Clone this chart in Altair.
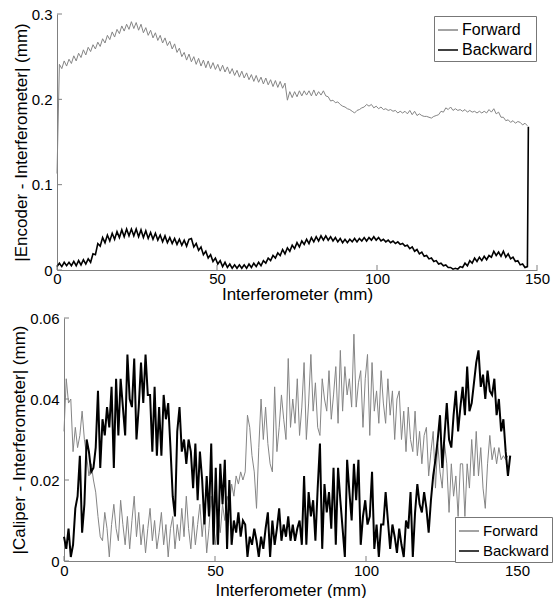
import altair as alt
import pandas as pd

STEP = 0.75

# ---- top panel: |Encoder - Interferometer| (mm) ----
top_forward = [
    0.113, 0.241, 0.236, 0.245, 0.239, 0.247, 0.242, 0.251, 0.245, 0.254,
    0.249, 0.258, 0.252, 0.261, 0.256, 0.264, 0.259, 0.267, 0.262, 0.271,
    0.266, 0.275, 0.270, 0.279, 0.273, 0.282, 0.277, 0.286, 0.280, 0.288,
    0.282, 0.291, 0.283, 0.290, 0.281, 0.288, 0.278, 0.284, 0.275, 0.281,
    0.272, 0.278, 0.269, 0.275, 0.266, 0.272, 0.263, 0.268, 0.259, 0.265,
    0.255, 0.260, 0.250, 0.255, 0.246, 0.253, 0.244, 0.250, 0.241, 0.248,
    0.239, 0.246, 0.237, 0.245, 0.236, 0.243, 0.235, 0.241, 0.233, 0.240,
    0.232, 0.238, 0.230, 0.236, 0.228, 0.234, 0.226, 0.233, 0.225, 0.231,
    0.223, 0.229, 0.221, 0.228, 0.220, 0.226, 0.218, 0.225, 0.217, 0.223,
    0.215, 0.222, 0.214, 0.221, 0.213, 0.219, 0.199, 0.209, 0.202, 0.209,
    0.203, 0.210, 0.204, 0.210, 0.205, 0.210, 0.204, 0.211, 0.204, 0.209,
    0.205, 0.210, 0.204, 0.203, 0.198, 0.199, 0.196, 0.197, 0.194, 0.192,
    0.191, 0.189, 0.188, 0.186, 0.184, 0.187, 0.188, 0.190, 0.191, 0.194,
    0.192, 0.194, 0.190, 0.192, 0.189, 0.191, 0.188, 0.189, 0.187, 0.188,
    0.186, 0.187, 0.184, 0.186, 0.184, 0.186, 0.183, 0.187, 0.182, 0.186,
    0.181, 0.183, 0.181, 0.180, 0.180, 0.179, 0.178, 0.180, 0.181, 0.182,
    0.186, 0.185, 0.190, 0.188, 0.191, 0.187, 0.189, 0.187, 0.188, 0.186,
    0.188, 0.185, 0.187, 0.185, 0.186, 0.184, 0.186, 0.184, 0.186, 0.184,
    0.188, 0.185, 0.189, 0.183, 0.185, 0.179, 0.179, 0.175, 0.176, 0.173,
    0.175, 0.172, 0.174, 0.173, 0.170, 0.172, 0.169,
]
top_backward = [
    0.004, 0.008, 0.004, 0.009, 0.005, 0.009, 0.005, 0.010, 0.005, 0.011,
    0.006, 0.012, 0.007, 0.013, 0.009, 0.019, 0.018, 0.031, 0.028, 0.038,
    0.032, 0.041, 0.034, 0.043, 0.036, 0.045, 0.038, 0.047, 0.039, 0.048,
    0.040, 0.048, 0.040, 0.048, 0.039, 0.047, 0.038, 0.046, 0.037, 0.044,
    0.036, 0.043, 0.035, 0.041, 0.033, 0.040, 0.032, 0.038, 0.031, 0.037,
    0.030, 0.036, 0.029, 0.035, 0.028, 0.036, 0.037, 0.027, 0.031, 0.023,
    0.027, 0.018, 0.022, 0.014, 0.018, 0.010, 0.014, 0.007, 0.011, 0.004,
    0.009, 0.003, 0.007, 0.002, 0.006, 0.002, 0.006, 0.002, 0.006, 0.002,
    0.007, 0.003, 0.008, 0.004, 0.009, 0.005, 0.011, 0.008, 0.014, 0.011,
    0.017, 0.014, 0.020, 0.017, 0.024, 0.019, 0.026, 0.022, 0.029, 0.025,
    0.032, 0.027, 0.034, 0.030, 0.036, 0.031, 0.038, 0.033, 0.039, 0.034,
    0.040, 0.035, 0.040, 0.035, 0.039, 0.034, 0.038, 0.033, 0.037, 0.032,
    0.036, 0.032, 0.036, 0.033, 0.037, 0.033, 0.037, 0.034, 0.038, 0.034,
    0.038, 0.035, 0.039, 0.035, 0.038, 0.034, 0.036, 0.033, 0.035, 0.032,
    0.034, 0.031, 0.033, 0.030, 0.031, 0.028, 0.029, 0.025, 0.027, 0.022,
    0.024, 0.019, 0.021, 0.016, 0.017, 0.013, 0.014, 0.010, 0.011, 0.007,
    0.008, 0.005, 0.006, 0.003, 0.003, 0.001, 0.002, 0.001, 0.004, 0.003,
    0.008, 0.005, 0.011, 0.008, 0.014, 0.010, 0.015, 0.011, 0.016, 0.012,
    0.017, 0.015, 0.022, 0.017, 0.021, 0.016, 0.022, 0.015, 0.019, 0.013,
    0.015, 0.010, 0.011, 0.006, 0.007, 0.003, 0.004,
]
top_backward_end = (147.3, 0.168)

# ---- bottom panel: |Caliper - Interferometer| (mm) ----
bottom_forward = [
    0.032, 0.045, 0.039, 0.040, 0.027, 0.033, 0.028, 0.031, 0.037, 0.030,
    0.026, 0.021, 0.024, 0.020, 0.017, 0.011, 0.006, 0.005, 0.012, 0.008,
    0.001, 0.009, 0.014, 0.008, 0.005, 0.015, 0.009, 0.004, 0.011, 0.003,
    0.010, 0.016, 0.006, 0.012, 0.004, 0.009, 0.002, 0.008, 0.013, 0.005,
    0.010, 0.003, 0.007, 0.012, 0.004, 0.009, 0.001, 0.008, 0.011, 0.003,
    0.009, 0.005, 0.013, 0.006, 0.016, 0.008, 0.003, 0.011, 0.004, 0.009,
    0.014, 0.006, 0.012, 0.002, 0.008, 0.016, 0.009, 0.004, 0.012, 0.007,
    0.014, 0.010, 0.016, 0.014, 0.019, 0.016, 0.021, 0.019, 0.022, 0.020,
    0.022, 0.036, 0.033, 0.026, 0.022, 0.013, 0.028, 0.040, 0.030, 0.038,
    0.029, 0.024, 0.022, 0.043, 0.027, 0.033, 0.041, 0.035, 0.030, 0.050,
    0.033, 0.040, 0.034, 0.045, 0.031, 0.038, 0.049, 0.030, 0.039, 0.051,
    0.037, 0.044, 0.033, 0.031, 0.045, 0.040, 0.037, 0.047, 0.035, 0.041,
    0.048, 0.034, 0.052, 0.037, 0.048, 0.041, 0.045, 0.038, 0.056, 0.038,
    0.044, 0.047, 0.033, 0.045, 0.051, 0.031, 0.049, 0.037, 0.042, 0.034,
    0.047, 0.039, 0.034, 0.045, 0.036, 0.042, 0.030, 0.040, 0.042, 0.030,
    0.037, 0.027, 0.038, 0.030, 0.027, 0.037, 0.026, 0.032, 0.024, 0.031,
    0.033, 0.021, 0.027, 0.032, 0.018, 0.029, 0.022, 0.018, 0.029, 0.024,
    0.012, 0.024, 0.016, 0.021, 0.011, 0.024, 0.024, 0.011, 0.024, 0.018,
    0.030, 0.021, 0.032, 0.021, 0.028, 0.018, 0.013, 0.024, 0.031, 0.025,
    0.028, 0.024, 0.028, 0.025, 0.026, 0.025, 0.026,
]
bottom_backward = [
    0.006, 0.003, 0.008, 0.001, 0.004, 0.013, 0.016, 0.026, 0.007, 0.014,
    0.030, 0.027, 0.022, 0.023, 0.028, 0.042, 0.023, 0.035, 0.031, 0.038,
    0.033, 0.043, 0.023, 0.045, 0.031, 0.045, 0.038, 0.031, 0.051, 0.040,
    0.038, 0.050, 0.030, 0.038, 0.049, 0.039, 0.051, 0.041, 0.041, 0.027,
    0.043, 0.026, 0.038, 0.026, 0.041, 0.035, 0.039, 0.028, 0.016, 0.011,
    0.032, 0.038, 0.027, 0.030, 0.024, 0.030, 0.027, 0.018, 0.029, 0.015,
    0.027, 0.020, 0.009, 0.021, 0.011, 0.029, 0.004, 0.023, 0.004, 0.024,
    0.014, 0.025, 0.003, 0.020, 0.004, 0.010, 0.007, 0.012, 0.006, 0.010,
    0.009, 0.001, 0.006, 0.004, 0.008, 0.005, 0.001, 0.006, 0.003, 0.008,
    0.012, 0.001, 0.010, 0.004, 0.008, 0.013, 0.005, 0.009, 0.006, 0.011,
    0.005, 0.009, 0.005, 0.008, 0.010, 0.004, 0.021, 0.004, 0.017, 0.011,
    0.015, 0.005, 0.018, 0.029, 0.003, 0.019, 0.012, 0.017, 0.008, 0.023,
    0.004, 0.023, 0.015, 0.008, 0.001, 0.025, 0.017, 0.010, 0.024, 0.015,
    0.025, 0.004, 0.011, 0.015, 0.009, 0.011, 0.022, 0.003, 0.009, 0.001,
    0.009, 0.009, 0.017, 0.010, 0.003, 0.009, 0.006, 0.002, 0.008, 0.004,
    0.001, 0.010, 0.008, 0.017, 0.001, 0.012, 0.019, 0.014, 0.012, 0.017,
    0.013, 0.007, 0.015, 0.021, 0.025, 0.030, 0.036, 0.023, 0.031, 0.039,
    0.030, 0.028, 0.036, 0.042, 0.032, 0.038, 0.043, 0.036, 0.048, 0.037,
    0.039, 0.044, 0.049, 0.052, 0.043, 0.046, 0.040, 0.047, 0.042, 0.041,
    0.045, 0.036, 0.040, 0.032, 0.035, 0.027, 0.021, 0.026,
]

series_names = ["Forward", "Backward"]
series_colors = ["#858585", "#000000"]
x_ticks = [0, 50, 100, 150]
top_y_ticks = [0, 0.1, 0.2, 0.3]
bottom_y_ticks = [0, 0.02, 0.04, 0.06]
x_title = "Interferometer (mm)"
top_y_title = "|Encoder - Interferometer| (mm)"
bottom_y_title = "|Caliper - Interferometer| (mm)"

FONT = "Liberation Sans"
AX = "#808080"


def make_frame(fwd, bwd, bwd_end=None):
    rows = []
    for i, v in enumerate(fwd):
        rows.append({"x": i * STEP, "y": v, "series": "Forward"})
    for i, v in enumerate(bwd):
        rows.append({"x": i * STEP, "y": v, "series": "Backward"})
    if bwd_end is not None:
        rows.append({"x": bwd_end[0], "y": bwd_end[1], "series": "Backward"})
    return pd.DataFrame(rows)


def panel(df, yticks, ymax, yfmt, ytitle, W, H, inset, lx, ly, lfont, fwd_w, bwd_w,
          xlabpad, xtitlepad):
    # inset: horizontal shift (px) of the axes' origin inside the panel
    xenc = alt.X("x:Q", scale=alt.Scale(domain=[0, 150], nice=False, zero=False,
                                        range=[inset, W]),
                 axis=alt.Axis(values=x_ticks, format="d", title=x_title,
                               labelFlush=False, labelPadding=xlabpad,
                               titlePadding=xtitlepad))
    if inset:
        yaxis = alt.Axis(values=yticks, format=yfmt, title=ytitle,
                         labelPadding=5, titlePadding=1, offset=-inset)
    else:
        yaxis = alt.Axis(values=yticks, format=yfmt, title=ytitle,
                         labelPadding=5, titlePadding=1)
    yenc = alt.Y("y:Q", scale=alt.Scale(domain=[0, ymax], nice=False), axis=yaxis)
    color = alt.Color(
        "series:N",
        scale=alt.Scale(domain=series_names, range=series_colors),
        legend=alt.Legend(title=None, orient="none", legendX=lx, legendY=ly,
                          symbolType="stroke", symbolSize=400, symbolStrokeWidth=1.5,
                          labelFontSize=lfont, labelFont=FONT, labelColor="black",
                          strokeColor="#777777", fillColor="white", padding=3,
                          labelOffset=3, rowPadding=1),
    )
    base = alt.Chart(df)
    fwd = base.transform_filter("datum.series == 'Forward'").mark_line(
        strokeWidth=fwd_w).encode(x=xenc, y=yenc, color=color)
    bwd = base.transform_filter("datum.series == 'Backward'").mark_line(
        strokeWidth=bwd_w).encode(x=xenc, y=yenc, color=color)
    xt = alt.Chart(pd.DataFrame({"x": x_ticks})).mark_rule(color=AX, strokeWidth=1).encode(
        x=xenc, y=alt.value(H), y2=alt.value(H - 5))
    yt = alt.Chart(pd.DataFrame({"y": yticks})).mark_rule(color=AX, strokeWidth=1).encode(
        y=yenc, x=alt.value(inset), x2=alt.value(inset + 5))
    return alt.layer(fwd, bwd, xt, yt).properties(width=W, height=H)


top_df = make_frame(top_forward, top_backward, top_backward_end)
bottom_df = make_frame(bottom_forward, bottom_backward)

top = panel(top_df, top_y_ticks, 0.3, ".1~f", top_y_title, 480, 256, 0,
            377, 2, 16, 1.0, 1.6, 1, 0)
bottom = panel(bottom_df, bottom_y_ticks, 0.06, ".2~f", bottom_y_title, 460, 243, 7,
               398, 199, 15, 1.0, 2.0, 2, 4)

chart = alt.vconcat(top, bottom, spacing=9).resolve_scale(
    color="independent").resolve_legend(color="independent").properties(
    padding={"left": 10, "top": 7, "right": 1, "bottom": 0}
).configure_view(strokeWidth=0).configure_axis(
    grid=False, ticks=False, domainColor=AX, domainWidth=1, minExtent=0,
    labelFont=FONT, titleFont=FONT, labelFontSize=15, titleFontSize=17,
    titleFontWeight="normal", labelColor="black", titleColor="black",
)

chart.save("out.html", embed_options={"renderer": "svg", "actions": False})
